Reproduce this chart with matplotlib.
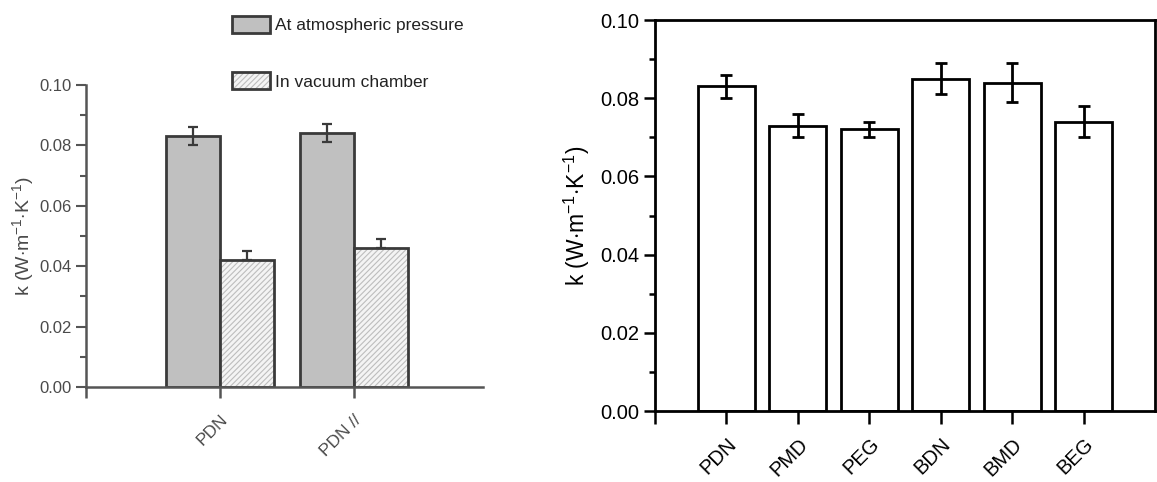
import numpy as np
import matplotlib
matplotlib.use("Agg")
import matplotlib.pyplot as plt
from matplotlib.patches import Patch
from matplotlib.legend_handler import HandlerTuple
from matplotlib.ticker import MultipleLocator

plt.rcParams['font.family'] = ['Liberation Sans', 'DejaVu Sans']
plt.rcParams['mathtext.fontset'] = 'custom'
plt.rcParams['mathtext.rm'] = 'Liberation Sans'
plt.rcParams['mathtext.it'] = 'Liberation Sans:italic'
plt.rcParams['hatch.linewidth'] = 0.8

# ---- data: left panel (pressure comparison)
left_cats = ['PDN', 'PDN //']
atm_vals = [0.083, 0.084]
atm_err = [0.003, 0.003]
vac_vals = [0.042, 0.046]
vac_err = [0.003, 0.003]
series_labels = ['At atmospheric pressure', 'In vacuum chamber']

# ---- data: right panel (samples)
right_cats = ['PDN', 'PMD', 'PEG', 'BDN', 'BMD', 'BEG']
right_vals = [0.083, 0.073, 0.072, 0.085, 0.084, 0.074]
right_err = [0.003, 0.003, 0.002, 0.004, 0.005, 0.004]

ylab = r'k (W$\cdot$m$^{-1}$$\cdot$K$^{-1}$)'

fig = plt.figure(figsize=(11.57, 4.82), dpi=100)

# ------------------------------------------------------------
# left panel
# ------------------------------------------------------------
gray_txt = '#4a4a4a'
edge = '#3a3a3a'
ax1 = fig.add_axes([0.0743, 0.1971, 0.3431, 0.6266])
x1 = np.arange(1, len(left_cats) + 1)
w = 0.4
ax1.bar(x1 - w / 2, atm_vals, w, color='#c0c0c0', edgecolor=edge, linewidth=2, zorder=2)
ax1.errorbar(x1 - w / 2, atm_vals, yerr=atm_err, fmt='none', ecolor=edge,
             elinewidth=1.6, capsize=3.5, capthick=1.6, zorder=3)
ax1.bar(x1 + w / 2, vac_vals, w, color='#f4f4f4', edgecolor='#bdbdbd',
        hatch='//////', linewidth=0, zorder=2)
ax1.bar(x1 + w / 2, vac_vals, w, color='none', edgecolor=edge, linewidth=2, zorder=2.5)
ax1.errorbar(x1 + w / 2, vac_vals, yerr=[np.zeros(len(vac_err)), vac_err], fmt='none',
             ecolor=edge, elinewidth=1.6, capsize=3.5, capthick=1.6, zorder=3)

ax1.set_xlim(0, 2.963)
ax1.set_ylim(0, 0.10)
ax1.yaxis.set_major_locator(MultipleLocator(0.02))
ax1.yaxis.set_minor_locator(MultipleLocator(0.01))
ax1.set_yticklabels([f'{v:.2f}' for v in ax1.get_yticks()])
ax1.set_xticks(x1)
ax1.set_xticklabels(left_cats, rotation=45, ha='right', rotation_mode='anchor')
ax1.set_xticks([0], minor=True)
for s in ['top', 'right']:
    ax1.spines[s].set_visible(False)
for s in ['left', 'bottom']:
    ax1.spines[s].set_color('#555555')
    ax1.spines[s].set_linewidth(1.8)
ax1.tick_params(axis='y', which='major', length=7, width=1.5, color='#555555',
                labelsize=12, labelcolor=gray_txt)
ax1.tick_params(axis='y', which='minor', length=4, width=1.5, color='#555555')
ax1.tick_params(axis='x', which='both', length=8, width=1.8, color='#555555',
                labelsize=12.5, labelcolor=gray_txt, pad=10)
ax1.set_ylabel(ylab, fontsize=14, color=gray_txt, labelpad=2)

h_atm = Patch(facecolor='#c0c0c0', edgecolor=edge, linewidth=2)
h_vac_fill = Patch(facecolor='#f4f4f4', edgecolor='#bdbdbd', hatch='//////', linewidth=0)
h_vac_edge = Patch(facecolor='none', edgecolor=edge, linewidth=2)
leg = fig.legend([h_atm, (h_vac_fill, h_vac_edge)], series_labels,
                 handler_map={tuple: HandlerTuple(ndivide=1, pad=0)},
                 loc='upper left', bbox_to_anchor=(232 / 1157, 1 - 16 / 482),
                 frameon=False, fontsize=12.5, handlelength=2.2, handleheight=1.1,
                 handletextpad=0.3, labelspacing=2.25, borderpad=0, borderaxespad=0)
for t in leg.get_texts():
    t.set_color('#222222')

# ------------------------------------------------------------
# right panel
# ------------------------------------------------------------
ax2 = fig.add_axes([0.5661, 0.1473, 0.4322, 0.8112])
x2 = np.arange(1, len(right_cats) + 1)
ax2.bar(x2, right_vals, 0.8, color='white', edgecolor='black', linewidth=2, zorder=2)
ax2.errorbar(x2, right_vals, yerr=right_err, fmt='none', ecolor='black',
             elinewidth=2, capsize=4, capthick=2, zorder=3)
ax2.set_xlim(0, 7)
ax2.set_ylim(0, 0.10)
ax2.yaxis.set_major_locator(MultipleLocator(0.02))
ax2.yaxis.set_minor_locator(MultipleLocator(0.01))
ax2.set_yticklabels([f'{v:.2f}' for v in ax2.get_yticks()])
ax2.set_xticks(x2)
ax2.set_xticklabels(right_cats, rotation=45, ha='right', rotation_mode='anchor')
ax2.set_xticks([0], minor=True)
for s in ax2.spines.values():
    s.set_linewidth(2)
ax2.tick_params(axis='y', which='major', length=8, width=1.8, labelsize=14.5)
ax2.tick_params(axis='y', which='minor', length=4, width=1.8)
ax2.tick_params(axis='x', which='both', length=9, width=1.8, labelsize=14.5, pad=8)
ax2.set_ylabel(ylab, fontsize=16.5, labelpad=6)

fig.savefig('out.png', dpi=100)
